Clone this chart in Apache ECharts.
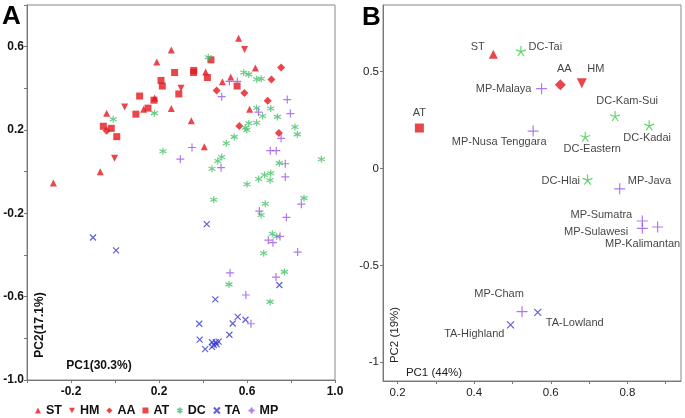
<!DOCTYPE html>
<html>
<head>
<meta charset="utf-8">
<script src="https://cdn.jsdelivr.net/npm/echarts@6/dist/echarts.min.js"></script>
<style>html,body{margin:0;padding:0;background:#fff}#c{width:685px;height:418px}</style>
</head>
<body>
<div id="c"></div>
<script>
// ---------- Panel A data (PC1, PC2) ----------
const A_ST = [[-0.28,-0.054],[-0.067,0.0],[-0.038,0.28],[0.13,0.30],[0.18,0.354],[0.19,0.527],[0.256,0.584],[0.256,0.303],[0.347,0.244],[0.406,0.12],[0.412,0.478],[0.488,0.432],[0.526,0.454],[0.562,0.641],[0.638,0.498],[0.612,0.30]];
const A_HM = [[0.044,0.311],[-0.002,0.065],[0.30,0.40],[0.589,0.587]];
const A_AA = [[-0.038,0.197],[0.462,0.39],[0.588,0.378],[0.565,0.219],[0.694,0.34],[0.711,0.443],[0.755,0.50],[0.745,0.186]];
const A_AT = [[-0.053,0.218],[-0.017,0.208],[0.008,0.168],[0.095,0.276],[0.112,0.363],[0.15,0.305],[0.177,0.343],[0.209,0.438],[0.215,0.411],[0.271,0.476],[0.29,0.373],[0.358,0.486],[0.357,0.476],[0.42,0.452],[0.436,0.537],[0.555,0.411]];
const A_DC = [[-0.008,0.252],[0.179,0.281],[0.218,0.098],[0.424,0.549],[0.585,0.476],[0.608,0.467],[0.644,0.444],[0.665,0.446],[0.644,0.306],[0.708,0.303],[0.671,0.267],[0.738,0.263],[0.608,0.232],[0.644,0.235],[0.592,0.211],[0.599,0.20],[0.818,0.214],[0.829,0.179],[0.542,0.167],[0.506,0.136],[0.485,0.07],[0.467,0.051],[0.441,0.014],[0.938,0.06],[0.747,0.041],[0.708,-0.008],[0.68,-0.016],[0.653,-0.035],[0.705,-0.041],[0.60,-0.06],[0.449,-0.135],[0.683,-0.154],[0.859,-0.127],[0.664,-0.208],[0.715,-0.298],[0.735,-0.311],[0.676,-0.392],[0.77,-0.481],[0.518,-0.541],[0.705,-0.625]];
const A_TA = [[-0.1,-0.316],[0.005,-0.378],[0.417,-0.252],[0.747,-0.544],[0.456,-0.613],[0.558,-0.697],[0.593,-0.711],[0.383,-0.73],[0.535,-0.729],[0.52,-0.783],[0.385,-0.806],[0.441,-0.819],[0.458,-0.819],[0.471,-0.816],[0.449,-0.832],[0.462,-0.829],[0.441,-0.841],[0.41,-0.852]];
const A_MP = [[0.52,0.433],[0.556,0.433],[0.485,0.36],[0.783,0.346],[0.652,0.286],[0.797,0.279],[0.755,0.16],[0.35,0.116],[0.297,0.06],[0.482,0.019],[0.706,0.101],[0.733,0.101],[0.774,0.038],[0.774,-0.025],[0.847,-0.156],[0.656,-0.189],[0.779,-0.219],[0.75,-0.311],[0.697,-0.329],[0.718,-0.341],[0.83,-0.386],[0.523,-0.486],[0.732,-0.506],[0.595,-0.592],[0.618,-0.73]];
const A_groups = ['ST','HM','AA','AT','DC','TA','MP'];
const A_xLabels = [-0.2, 0.2, 0.6, 1.0];
const A_yLabels = [-1.0, -0.6, -0.2, 0.2, 0.6];

// ---------- Panel B data ----------
const B_names = ['ST','DC-Tai','AA','HM','MP-Malaya','AT','DC-Kam-Sui','DC-Kadai','MP-Nusa Tenggara','DC-Eastern','DC-Hlai','MP-Java','MP-Sumatra','MP-Sulawesi','MP-Kalimantan','MP-Cham','TA-Lowland','TA-Highland'];
const B_x = [0.45,0.522,0.625,0.681,0.576,0.257,0.768,0.857,0.554,0.69,0.696,0.78,0.839,0.839,0.879,0.525,0.566,0.495];
const B_y = [0.59,0.606,0.432,0.44,0.412,0.209,0.271,0.223,0.193,0.164,-0.057,-0.105,-0.271,-0.309,-0.302,-0.739,-0.743,-0.807];
const B_xTicks = [0.2, 0.3, 0.4, 0.5, 0.6, 0.7, 0.8, 0.9];
const B_xLabels = [0.2, 0.4, 0.6, 0.8];
const B_yTicks = [0.5, 0, -0.5, -1];

// ---------- styles ----------
const FONT = "'Liberation Sans', Arial, sans-serif";
const RED = '#e4181e', GREEN = '#45c068', BGREEN = '#3ccc48', BLUE = '#3838d0', PURPLE = '#9d55ee';
const P_AST = 'path://M5,0L5,10M0.67,2.5L9.33,7.5M0.67,7.5L9.33,2.5';
const P_X = 'path://M0,0L10,10M10,0L0,10';
const P_PLUS = 'path://M5,0L5,10M0,5L10,5';
const P_STAR = 'path://M5,5L5,0M5,5L9.755,3.455M5,5L7.939,9.045M5,5L2.061,9.045M5,5L0.245,3.455';
const P_DOWN = 'path://M0,0L10,0L5,9Z';

const styleA = {
  ST: {symbol:'triangle', size:7, color:RED},
  HM: {symbol:P_DOWN, size:7, color:RED},
  AA: {symbol:'diamond', size:8, color:RED},
  AT: {symbol:'rect', size:7, color:RED},
  DC: {symbol:P_AST, size:7, color:GREEN, line:true},
  TA: {symbol:P_X, size:6, color:BLUE, line:true},
  MP: {symbol:P_PLUS, size:8, color:PURPLE, line:true}
};
const dataA = {ST:A_ST, HM:A_HM, AA:A_AA, AT:A_AT, DC:A_DC, TA:A_TA, MP:A_MP};

const styleB = {
  ST: {symbol:'triangle', size:9, color:RED},
  HM: {symbol:P_DOWN, size:10, color:RED},
  AA: {symbol:'diamond', size:11, color:RED},
  AT: {symbol:'rect', size:9, color:RED},
  DC: {symbol:P_STAR, size:10, color:BGREEN, line:true},
  TA: {symbol:P_X, size:7, color:BLUE, line:true},
  MP: {symbol:P_PLUS, size:11, color:PURPLE, line:true}
};
// label placement per point in panel B
const labelB = {
  'ST': {position:'left', offset:[0,-7]},
  'DC-Tai': {position:'right', offset:[-2,-4]},
  'AA': {position:'top', offset:[4,-1]},
  'HM': {position:'top', offset:[14,0]},
  'MP-Malaya': {position:'left', offset:[0,0]},
  'AT': {position:'top', offset:[0,-1]},
  'DC-Kam-Sui': {position:'top', offset:[12,0]},
  'DC-Kadai': {position:'bottom', offset:[-2,-2]},
  'MP-Nusa Tenggara': {position:'bottom', offset:[-34,-5]},
  'DC-Eastern': {position:'bottom', offset:[7,-3]},
  'DC-Hlai': {position:'left', offset:[2,1]},
  'MP-Java': {position:'right', offset:[-2,-8]},
  'MP-Sumatra': {position:'left', offset:[0,-6]},
  'MP-Sulawesi': {position:'left', offset:[-4,4]},
  'MP-Kalimantan': {position:'bottom', offset:[-15,1]},
  'MP-Cham': {position:'top', offset:[-23,-2]},
  'TA-Lowland': {position:'bottom', offset:[37,-3]},
  'TA-Highland': {position:'left', offset:[2,9]}
};

function itemStyleOf(s){
  return s.line ? {color:s.color, borderColor:s.color, borderWidth:1.2} : {color:s.color};
}

const series = [];
A_groups.forEach(g => {
  const s = styleA[g];
  series.push({
    name:g, type:'scatter', xAxisIndex:0, yAxisIndex:0,
    symbol:s.symbol, symbolSize:s.size,
    itemStyle:itemStyleOf(s), data:dataA[g], z:3
  });
});

const groupOf = n => n.split('-')[0];
A_groups.forEach(g => {
  const s = styleB[g];
  const pts = [];
  B_names.forEach((n,i) => {
    if (groupOf(n) !== g) return;
    const lb = labelB[n];
    pts.push({name:n, value:[B_x[i], B_y[i]], label:{show:true, formatter:n, position:lb.position, offset:lb.offset, distance:4}});
  });
  series.push({
    name:'B-'+g, type:'scatter', xAxisIndex:1, yAxisIndex:1,
    symbol:s.symbol, symbolSize:s.size,
    itemStyle:itemStyleOf(s),
    label:{color:'#111', fontSize:11, fontFamily:FONT},
    data:pts, z:3
  });
});

const fmtA = list => v => { const r = Math.round(v*10)/10; return list.some(x => Math.abs(x-r)<1e-9) ? r.toFixed(1) : ''; };

const option = {
  animation:false,
  backgroundColor:'#fff',
  textStyle:{fontFamily:FONT},
  grid:[
    {left:27, top:5, width:308, height:375, show:true, borderColor:'#888', borderWidth:1, backgroundColor:'transparent'},
    {left:383, top:5, width:298, height:376, show:true, borderColor:'#888', borderWidth:1, backgroundColor:'transparent'}
  ],
  xAxis:[
    {gridIndex:0, type:'value', min:-0.4, max:1.0, interval:0.2,
     axisLine:{show:true, onZero:false, lineStyle:{color:'#777'}},
     axisTick:{show:true, length:3, lineStyle:{color:'#777'}},
     splitLine:{show:false},
     axisLabel:{formatter:fmtA(A_xLabels), color:'#111', fontWeight:'bold', fontSize:12, margin:6, fontFamily:FONT, showMinLabel:true, showMaxLabel:true}},
    {gridIndex:1, type:'value', min:0.162, max:0.94,
     axisLine:{show:true, onZero:false, lineStyle:{color:'#777'}},
     axisTick:{show:true, length:3, customValues:B_xTicks, lineStyle:{color:'#777'}},
     splitLine:{show:false},
     axisLabel:{customValues:B_xLabels, formatter:v=>String(Math.round(v*10)/10), color:'#222', fontSize:11.5, margin:6, fontFamily:FONT}}
  ],
  yAxis:[
    {gridIndex:0, type:'value', min:-1.0, max:0.8, interval:0.2,
     axisLine:{show:true, onZero:false, lineStyle:{color:'#777'}},
     axisTick:{show:true, length:3, lineStyle:{color:'#777'}},
     splitLine:{show:false},
     axisLabel:{formatter:fmtA(A_yLabels), color:'#111', fontWeight:'bold', fontSize:12, margin:3, fontFamily:FONT, showMinLabel:true, showMaxLabel:true}},
    {gridIndex:1, type:'value', min:-1.097, max:0.844,
     axisLine:{show:true, onZero:false, lineStyle:{color:'#777'}},
     axisTick:{show:true, length:3, customValues:B_yTicks, lineStyle:{color:'#777'}},
     splitLine:{show:false},
     axisLabel:{customValues:B_yTicks, formatter:v=>String(v), color:'#222', fontSize:11.5, margin:4, fontFamily:FONT}}
  ],
  legend:{
    data:A_groups, left:30, top:399, orient:'horizontal',
    itemWidth:6, itemHeight:6, itemGap:7,
    textStyle:{fontWeight:'bold', fontSize:12.5, color:'#111', fontFamily:FONT, width:21},
    selectedMode:false
  },
  graphic:[
    {type:'text', left:2, top:4, style:{text:'A', font:'bold 26px '+FONT, fill:'#000'}},
    {type:'text', left:362, top:5, style:{text:'B', font:'bold 26px '+FONT, fill:'#000'}},
    {type:'text', x:40, y:325, rotation:Math.PI/2, style:{text:'PC2(17.1%)', font:'bold 12px '+FONT, fill:'#111', align:'center', verticalAlign:'middle'}},
    {type:'text', x:99, y:366, style:{text:'PC1(30.3%)', font:'bold 12px '+FONT, fill:'#111', align:'center', verticalAlign:'middle'}},
    {type:'text', x:395, y:335, rotation:Math.PI/2, style:{text:'PC2 (19%)', font:'11.5px '+FONT, fill:'#222', align:'center', verticalAlign:'middle'}},
    {type:'text', x:434, y:373, style:{text:'PC1 (44%)', font:'11.5px '+FONT, fill:'#222', align:'center', verticalAlign:'middle'}}
  ],
  series:series
};

const chart = echarts.init(document.getElementById('c'), null, {renderer:'canvas'});
chart.setOption(option);
</script>
</body>
</html>
